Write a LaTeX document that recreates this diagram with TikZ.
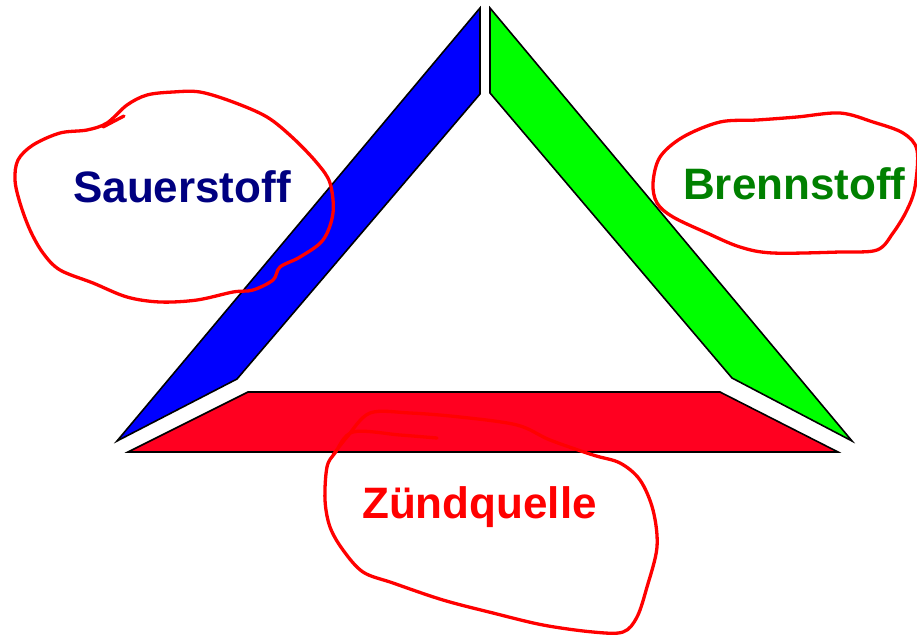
\documentclass[tikz,border=0pt]{standalone}
\usepackage{fontspec}
\setmainfont{Liberation Sans}
\usetikzlibrary{calc}
\definecolor{oxy}{RGB}{0,0,128}
\definecolor{fuel}{RGB}{0,128,0}
\definecolor{bluep}{RGB}{0,0,255}
\definecolor{greenp}{RGB}{0,255,0}
\definecolor{redp}{RGB}{255,0,32}
\definecolor{scrib}{RGB}{255,0,0}
\tikzset{
  panel/.style={draw=black, line width=1.6pt, line join=miter},
  label/.style={font=\fontsize{44}{50}\selectfont\bfseries, anchor=base west, inner sep=0pt},
  loop/.style={draw=scrib, line width=3.3pt, line cap=round, line join=round}
}
\begin{document}
\begin{tikzpicture}[x=1pt,y=-1pt]
\useasboundingbox (0,0) rectangle (917,635);
% panels
\draw[panel, fill=bluep] (480,8) -- (480,94) -- (237,379) -- (117,441) -- cycle;
\draw[panel, fill=greenp] (490,8) -- (490,93) -- (732,378) -- (852,441) -- cycle;
\draw[panel, fill=redp] (248,392) -- (720,392) -- (838,452) -- (128,452) -- cycle;
\draw[black, line width=2.4pt] (128,452) -- (838,452);
% labels
\node[label, text=oxy] (sauer) at (73,202) {Sauerstoff};
\node[label, text=fuel] (brenn) at (683,199) {Brennstoff};
\node[label, text=scrib] (zuend) at (362,518) {Zündquelle};
% hand-drawn loops
\draw[loop] plot[smooth cycle, tension=0.55] coordinates {
 (107,123) (127,105) (147,95) (173,92) (200,92) (233,102) (267,117) (293,138)
 (317,163) (330,183) (333,213) (323,240) (300,257) (280,267) (273,280) (253,290)
 (233,292) (197,300) (160,302) (127,297) (93,283) (60,270) (43,253) (30,230)
 (20,203) (15,180) (18,160) (33,145) (60,133) (87,130)};
\draw[loop] (103,127) -- (124,116);
\draw[loop] plot[smooth cycle, tension=0.55] coordinates {
 (653,183) (660,157) (683,137) (720,122) (757,120) (797,117) (840,113) (873,122)
 (903,133) (917,150) (915,187) (907,210) (893,233) (877,250) (840,252) (773,253)
 (740,247) (707,233) (673,217) (657,203)};
\draw[loop] plot[smooth, tension=0.55] coordinates {
 (437,438) (400,435) (353,432) (335,453) (327,467) (325,500) (330,527) (343,550)
 (363,572) (393,583) (443,600) (493,613) (543,625) (593,632) (623,632) (637,617)
 (647,587) (657,547) (653,510) (640,480) (620,463) (593,455) (550,440) (517,425)
 (460,417) (410,413) (370,413) (347,437) (333,455)};
\end{tikzpicture}
\end{document}
